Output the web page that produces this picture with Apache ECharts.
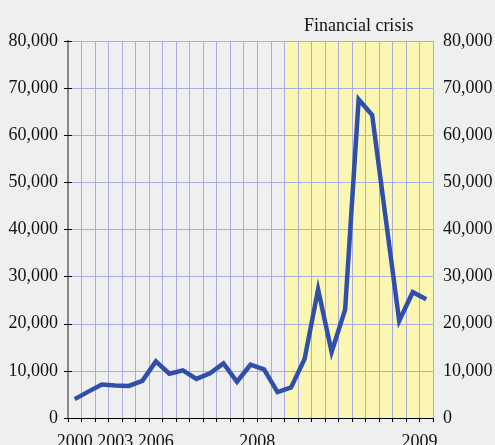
<!DOCTYPE html>
<html><head><meta charset="utf-8">
<script src="https://cdn.jsdelivr.net/npm/echarts@6/dist/echarts.min.js"></script>
<style>html,body{margin:0;padding:0;background:#efefef;}#c{width:495px;height:445px;}</style>
</head><body><div id="c"></div>
<script>
// 27 periods (annual 2000-2006, then monthly through 2009)
const values = [4000, 5600, 7100, 6900, 6800, 7900, 12000, 9400, 10100, 8300, 9500, 11600, 7700, 11300, 10300, 5500, 6500, 12500, 27300, 14000, 23000, 67600, 64300, 42400, 20600, 26700, 25200];
// tick labels and their positions on the period scale
const tickLabels = ["2000", "2003", "2006", "2008", "2009"];
const tickPos = [0.5, 3.5, 6.5, 14, 26];
const crisisStart = 16, crisisEnd = 27;
const crisisLabel = "Financial crisis";
const yTicks = [0, 10000, 20000, 30000, 40000, 50000, 60000, 70000, 80000];

const font = "Liberation Serif";
const pts = values.map((v, i) => [i + 0.5, v]);
const fmt = v => v.toLocaleString('en-US');

const chart = echarts.init(document.getElementById('c'));
chart.setOption({
  backgroundColor: '#efefef',
  animation: false,
  grid: {left: 68, right: 62, top: 41, bottom: 27, outerBoundsMode: 'none', containLabel: false},
  xAxis: [{
    type: 'value', min: 0, max: values.length, interval: 1, z: 3,
    axisLine: {show: true, lineStyle: {color: '#000', width: 1}},
    axisTick: {show: true, length: 4, lineStyle: {color: '#000'}},
    axisLabel: {show: false},
    splitLine: {show: true, lineStyle: {color: '#a9abe3', width: 1}}
  }, {
    type: 'value', min: 0, max: values.length, interval: 0.5, position: 'bottom', z: 3,
    axisLine: {show: false}, axisTick: {show: false}, splitLine: {show: false},
    axisLabel: {
      show: true, margin: 15, color: '#111', fontFamily: font, fontSize: 18,
      showMinLabel: true, showMaxLabel: true, hideOverlap: false,
      formatter: v => { const k = tickPos.findIndex(p => Math.abs(p - v) < 1e-6); return k >= 0 ? tickLabels[k] : ''; }
    }
  }],
  yAxis: [0, 1].map(side => ({
    type: 'value', min: yTicks[0], max: yTicks[yTicks.length - 1], interval: yTicks[1] - yTicks[0],
    position: side ? 'right' : 'left', z: 3,
    axisLine: {show: true, lineStyle: {color: '#888', width: 2}},
    axisTick: {show: true, inside: true, length: 4, lineStyle: {color: '#000'}},
    axisLabel: {margin: 10, color: '#111', fontFamily: font, fontSize: 18, formatter: fmt},
    splitLine: {show: side === 0, lineStyle: {color: '#a9abe3', width: 1}}
  })),
  series: [{
    type: 'line', xAxisIndex: 0, yAxisIndex: 0, data: [], z: 1,
    markArea: {
      silent: true, z: 1,
      itemStyle: {color: '#fbf6b2', opacity: 1},
      label: {show: true, position: 'top', distance: 6, color: '#111', fontFamily: font, fontSize: 18},
      data: [[{name: crisisLabel, xAxis: crisisStart}, {xAxis: crisisEnd}]]
    }
  }, {
    type: 'line', xAxisIndex: 0, yAxisIndex: 0, data: pts,
    symbol: 'none', z: 5,
    lineStyle: {color: '#2f4faa', width: 4.5, join: 'miter'}
  }]
});
</script></body></html>
